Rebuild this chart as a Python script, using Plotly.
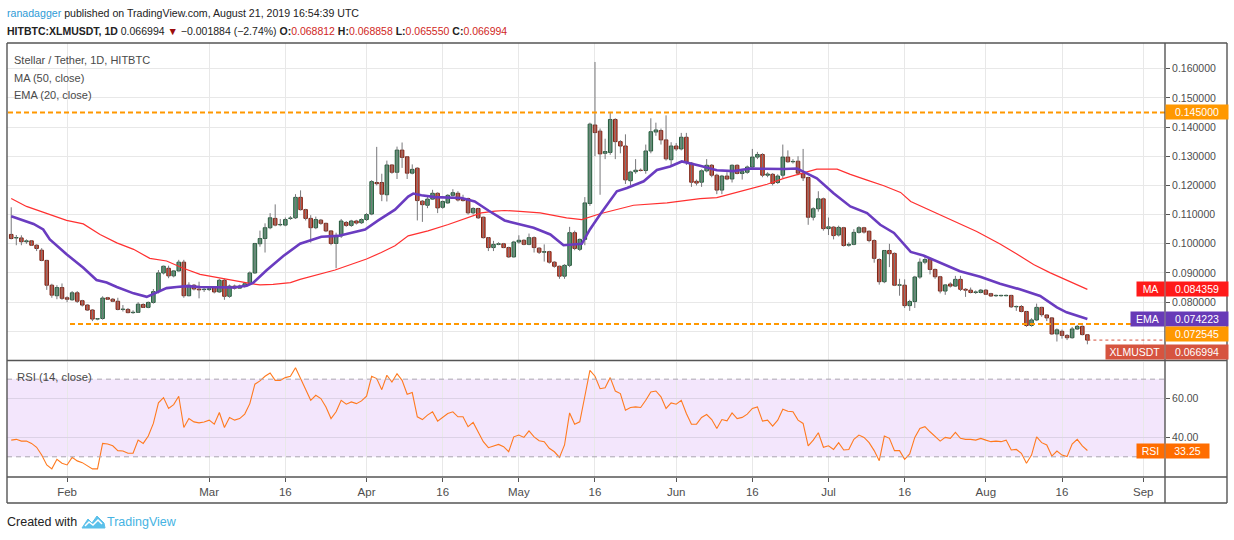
# %%
import pandas as pd
import plotly.graph_objects as go


# %% DATA (XLM/USDT daily, HitBTC)
start_date = '2019-01-21'

opens = [
    .1032, .1020, .1020, .1007, .1010, .0995, .0978, .0943, .0858, .0822,
    .0850, .0815, .0808, .0832, .0805, .0790, .0773, .0742, .0744, .0815,
    .0810, .0803, .0775, .0775, .0764, .0765, .0792, .0782, .0799, .0836,
    .0900, .0916, .0890, .0907, .0937, .0822, .0858, .0845, .0843, .0843,
    .0850, .0835, .0875, .0820, .0855, .0848, .0855, .0863, .0900, .1000,
    .1018, .1055, .1087, .1065, .1064, .1087, .1089, .1159, .1117, .1087,
    .1055, .1081, .1070, .1044, .1001, .1027, .1073, .1063, .1078, .1072,
    .1083, .1102, .1210, .1210, .1168, .1270, .1245, .1321, .1298, .1242,
    .1259, .1146, .1132, .1153, .1173, .1125, .1140, .1166, .1173, .1153,
    .1155, .1106, .1121, .1091, .1021, .0987, .0998, .1000, .0987, .0955,
    .1006, .1012, .0998, .1021, .0985, .0971, .0973, .0937, .0923, .0889,
    .0926, .1038, .0981, .1015, .1138, .1407, .1386, .1310, .1313, .1426,
    .1350, .1335, .1216, .1247, .1252, .1251, .1318, .1383, .1388, .1356,
    .1288, .1335, .1325, .1365, .1276, .1214, .1211, .1250, .1269, .1235,
    .1184, .1232, .1222, .1269, .1241, .1245, .1263, .1297, .1306, .1235,
    .1238, .1210, .1235, .1297, .1281, .1283, .1240, .1227, .1091, .1120,
    .1154, .1052, .1057, .1030, .1055, .0995, .0998, .1039, .1055, .1043,
    .1011, .0946, .0870, .0977, .0967, .0858, .0858, .0788, .0802, .0886,
    .0937, .0946, .0912, .0887, .0838, .0862, .0855, .0878, .0844, .0841,
    .0833, .0833, .0841, .0829, .0822, .0822, .0822, .0823, .0784, .0785,
    .0768, .0720, .0739, .0782, .0756, .0746, .0691, .0700, .0686, .0678,
    .0708, .0717, .068812,
]
highs = [
    .1125, .1030, .1029, .1015, .1012, .0998, .0985, .0945, .0863, .0858,
    .0864, .0820, .0838, .0838, .0808, .0793, .0776, .0745, .0820, .0818,
    .0814, .0815, .0790, .0780, .0772, .0800, .0796, .0802, .0845, .0910,
    .0925, .0925, .0910, .0945, .0945, .0868, .0862, .0870, .0850, .0852,
    .0855, .0880, .0880, .0860, .0860, .0860, .0868, .0905, .1003, .1045,
    .1070, .1105, .1135, .1085, .1090, .1095, .1170, .1183, .1120, .1098,
    .1093, .1085, .1072, .1046, .1038, .1085, .1078, .1082, .1082, .1087,
    .1105, .1218, .1332, .1240, .1285, .1272, .1333, .1347, .1300, .1272,
    .1262, .1150, .1160, .1185, .1176, .1148, .1170, .1187, .1180, .1168,
    .1158, .1125, .1123, .1093, .1023, .1010, .1005, .1003, .0990, .1010,
    .1029, .1015, .1035, .1025, .0988, .0998, .0976, .0940, .0925, .0930,
    .1058, .1045, .1018, .1160, .1415, .1623, .1395, .1360, .1450, .1430,
    .1355, .1375, .1250, .1290, .1258, .1340, .1430, .1415, .1395, .1440,
    .1348, .1345, .1380, .1380, .1280, .1220, .1255, .1290, .1273, .1240,
    .1236, .1245, .1272, .1272, .1252, .1268, .1325, .1315, .1310, .1245,
    .1242, .1238, .1340, .1320, .1290, .1300, .1325, .1230, .1125, .1180,
    .1158, .1090, .1060, .1062, .1058, .1005, .1050, .1060, .1058, .1045,
    .1015, .0950, .0978, .1000, .0970, .0880, .0878, .0808, .0890, .0950,
    .0960, .0950, .0915, .0890, .0862, .0868, .0890, .0890, .0848, .0850,
    .0840, .0845, .0845, .0832, .0826, .0825, .0826, .0825, .0788, .0790,
    .0770, .0745, .0795, .0784, .0758, .0748, .0710, .0706, .0690, .0715,
    .0722, .0720, .068858,
]
lows = [
    .1015, .0995, .0995, .1000, .0993, .0975, .0940, .0842, .0815, .0810,
    .0808, .0800, .0805, .0797, .0785, .0770, .0735, .0738, .0740, .0808,
    .0800, .0772, .0768, .0762, .0760, .0763, .0780, .0779, .0795, .0830,
    .0895, .0882, .0885, .0905, .0815, .0820, .0840, .0813, .0835, .0838,
    .0830, .0832, .0808, .0815, .0843, .0845, .0850, .0860, .0897, .0990,
    .0970, .1050, .1060, .1060, .1060, .1082, .1085, .1114, .1080, .1004,
    .1050, .1065, .1040, .0995, .0916, .1020, .1058, .1058, .1066, .1068,
    .1078, .1098, .1200, .1146, .1145, .1240, .1222, .1260, .1222, .1238,
    .1080, .1075, .1122, .1150, .1105, .1120, .1137, .1162, .1145, .1145,
    .1100, .1100, .1085, .1018, .0975, .0975, .0995, .0985, .0952, .0953,
    .1000, .0995, .0995, .0970, .0965, .0939, .0932, .0918, .0880, .0880,
    .0920, .0978, .0975, .0995, .1130, .1300, .1168, .1290, .1305, .1290,
    .1310, .1205, .1200, .1240, .1248, .1240, .1310, .1370, .1340, .1285,
    .1270, .1318, .1320, .1270, .1195, .1200, .1195, .1245, .1228, .1170,
    .1170, .1218, .1210, .1238, .1220, .1240, .1255, .1290, .1228, .1228,
    .1200, .1205, .1225, .1278, .1275, .1235, .1215, .1065, .1080, .1110,
    .1045, .1030, .1015, .1025, .0990, .0990, .0995, .1035, .1035, .1005,
    .0935, .0860, .0865, .0920, .0855, .0822, .0780, .0770, .0780, .0880,
    .0930, .0895, .0880, .0830, .0825, .0850, .0852, .0838, .0818, .0830,
    .0828, .0830, .0825, .0818, .0818, .0819, .0820, .0780, .0770, .0765,
    .0715, .0716, .0735, .0750, .0735, .0688, .0665, .0675, .0670, .0675,
    .0705, .0686, .065550,
]
closes = [
    .1018, .1021, .1007, .1010, .0995, .0984, .0943, .0858, .0824, .0850,
    .0813, .0810, .0832, .0803, .0790, .0773, .0742, .0743, .0814, .0810,
    .0803, .0775, .0776, .0764, .0765, .0793, .0782, .0799, .0836, .0900,
    .0923, .0890, .0907, .0937, .0822, .0858, .0845, .0842, .0843, .0846,
    .0835, .0875, .0820, .0855, .0848, .0855, .0863, .0900, .1001, .1018,
    .1055, .1089, .1064, .1066, .1083, .1087, .1159, .1117, .1087, .1055,
    .1083, .1070, .1044, .1001, .1027, .1078, .1063, .1078, .1071, .1083,
    .1100, .1213, .1206, .1170, .1270, .1245, .1321, .1296, .1242, .1255,
    .1148, .1134, .1153, .1173, .1123, .1145, .1166, .1175, .1150, .1148,
    .1106, .1121, .1089, .1021, .0987, .0998, .1000, .0987, .0955, .1006,
    .1012, .0998, .1021, .0987, .0971, .0973, .0937, .0923, .0889, .0926,
    .1038, .0984, .1015, .1140, .1410, .1381, .1308, .1316, .1426, .1350,
    .1335, .1219, .1246, .1252, .1251, .1318, .1384, .1390, .1356, .1291,
    .1335, .1325, .1365, .1280, .1211, .1208, .1250, .1269, .1235, .1184,
    .1232, .1222, .1269, .1241, .1247, .1263, .1297, .1306, .1235, .1239,
    .1207, .1232, .1297, .1281, .1281, .1242, .1226, .1091, .1120, .1154,
    .1052, .1058, .1028, .1056, .0994, .0998, .1039, .1055, .1040, .1011,
    .0950, .0870, .0977, .0966, .0858, .0858, .0788, .0802, .0886, .0937,
    .0946, .0912, .0887, .0838, .0859, .0855, .0878, .0844, .0841, .0833,
    .0835, .0841, .0827, .0821, .0822, .0822, .0823, .0784, .0785, .0768,
    .0720, .0739, .0782, .0757, .0746, .0691, .0705, .0686, .0678, .0708,
    .0717, .068878, .066994,
]

# RSI (14, close), one value per candle
rsi = [
    38.6, 39.0, 38.1, 38.1, 36.9, 34.9, 30.9, 25.8, 23.8, 28.7,
    26.7, 25.8, 29.7, 27.9, 27.0, 25.3, 23.8, 23.8, 36.9, 36.6,
    35.7, 33.2, 33.0, 31.8, 31.8, 38.6, 36.9, 40.7, 47.2, 57.8,
    60.5, 54.9, 56.9, 61.2, 45.1, 49.7, 48.0, 47.5, 47.9, 48.9,
    46.8, 52.8, 45.1, 50.3, 48.9, 49.7, 52.0, 57.4, 67.4, 69.1,
    71.5, 73.2, 69.4, 69.4, 70.8, 71.5, 75.9, 70.3, 64.3, 59.1,
    61.7, 60.0, 55.7, 49.7, 53.2, 59.1, 57.1, 58.3, 57.4, 58.8,
    61.2, 71.5, 70.3, 64.6, 72.0, 68.5, 72.8, 69.4, 62.2, 63.1,
    50.6, 49.2, 51.5, 53.2, 48.4, 50.6, 52.3, 53.2, 50.6, 50.6,
    45.5, 47.7, 42.9, 37.8, 34.7, 35.7, 36.4, 35.2, 32.6, 40.3,
    41.2, 40.0, 43.4, 40.3, 38.3, 37.8, 34.4, 32.6, 29.7, 36.1,
    52.6, 46.8, 48.0, 61.2, 74.5, 71.5, 65.1, 65.6, 70.8, 63.9,
    62.6, 54.0, 55.4, 55.7, 55.4, 59.1, 63.4, 63.9, 60.9, 54.9,
    57.8, 57.1, 59.1, 52.3, 46.8, 46.8, 50.3, 51.8, 49.2, 44.6,
    49.2, 48.5, 52.6, 49.7, 50.3, 52.0, 54.9, 55.7, 48.4, 48.9,
    45.8, 48.9, 54.5, 53.5, 53.2, 48.9, 47.2, 35.6, 38.6, 42.4,
    34.9, 35.7, 33.8, 37.3, 33.5, 33.8, 39.0, 41.2, 40.0, 37.3,
    33.2, 28.0, 40.7, 39.5, 33.2, 33.2, 28.7, 31.5, 40.0, 44.6,
    45.5, 42.9, 40.7, 38.1, 40.0, 39.5, 42.6, 39.5, 39.0, 39.0,
    38.6, 39.5, 38.6, 37.8, 38.1, 37.8, 38.6, 33.5, 33.8, 31.8,
    26.7, 30.9, 40.3, 37.3, 36.1, 30.4, 33.0, 30.9, 30.1, 36.6,
    39.0, 35.6, 33.25,
]

# MA (50) and EMA (20) (day offset from start, value)
ma_day = [0, 3.0, 10.9, 14.2, 17.5, 20.8, 24.1, 27.3, 30.6, 33.9,
          37.2, 40.5, 43.8, 47.0, 49.0, 51.6, 55.0, 56.9, 63.8, 70.0,
          72.9, 75.6, 78.2, 82.1, 86.1, 88.7, 92.6, 95.3, 97.2, 100.2,
          104.2, 109.4, 112.4, 116.0, 122.6, 129.2, 135.7, 139.0, 142.3, 145.6,
          148.9, 152.2, 155.4, 158.7, 162.7, 165.3, 168.6, 171.9, 175.2, 177.2,
          190.2, 194.8, 198.1, 201.4, 204.6, 207.9, 212]
ma_val = [.1155, .1128, .1080, .1068, .1032, .1003, .0981, .0950, .0941, .0916,
          .0895, .0884, .0873, .0864, .0859, .0861, .0867, .0878, .0910, .0948,
          .0970, .0993, .1027, .1044, .1066, .1083, .1106, .1112, .1114, .1111,
          .1106, .1089, .1083, .1103, .1132, .1140, .1155, .1158, .1173, .1188,
          .1204, .1224, .1241, .1256, .1256, .1238, .1218, .1199, .1176, .1145,
          .1042, .0999, .0965, .0929, .0901, .0875, .084359]

ema_day = [0, 1.7, 4.4, 6.3, 7.6, 10.9, 14.2, 16.8, 18.8, 20.8,
           24.1, 26.7, 28.7, 30.6, 32.6, 34.6, 37.2, 40.5, 43.8, 46.4,
           47.7, 50.3, 53.6, 56.9, 61.1, 64.4, 69.7, 72.3, 75.6, 78.2,
           79.2, 80.8, 83.5, 88.7, 91.3, 94.0, 97.2, 98.3, 102.9, 106.2,
           108.8, 112.4, 114.0, 116.0, 119.3, 121.3, 124.6, 127.2, 129.8, 132.1,
           133.8, 135.7, 139.0, 142.3, 145.6, 148.9, 152.2, 154.8, 156.8, 158.7,
           162.0, 165.3, 168.6, 171.2, 173.9, 177.2, 179.7, 183.0, 186.9, 190.9,
           194.8, 198.7, 202.7, 206.0, 207.9, 212]
ema_val = [.1094, .1083, .1068, .1049, .1015, .0964, .0918, .0876, .0867, .0852,
           .0830, .0818, .0833, .0848, .0852, .0855, .0852, .0852, .0850, .0856,
           .0867, .0909, .0958, .1000, .1024, .1027, .1049, .1080, .1117, .1162,
           .1172, .1166, .1160, .1157, .1145, .1114, .1080, .1075, .1055, .1032,
           .0995, .1000, .1049, .1100, .1180, .1191, .1214, .1253, .1265, .1282,
           .1276, .1267, .1252, .1249, .1258, .1256, .1256, .1258, .1241, .1224,
           .1173, .1128, .1105, .1065, .1037, .0972, .0960, .0934, .0906, .0887,
           .0863, .0844, .0821, .0782, .0765, .074223]

support_level = 0.0725
resistance_level = 0.145

tick_dates = ['2019-02-01', '2019-03-01', '2019-03-16', '2019-04-01', '2019-04-16',
              '2019-05-01', '2019-05-16', '2019-06-01', '2019-06-16', '2019-07-01',
              '2019-07-16', '2019-08-01', '2019-08-16', '2019-09-01']
tick_text = ['Feb', 'Mar', '16', 'Apr', '16', 'May', '16', 'Jun', '16', 'Jul',
             '16', 'Aug', '16', 'Sep']
price_ticks = [0.07, 0.08, 0.09, 0.10, 0.11, 0.12, 0.13, 0.14, 0.15, 0.16]
price_tick_text = ['', '0.080000', '0.090000', '0.100000', '0.110000', '0.120000',
                   '0.130000', '0.140000', '0.150000', '0.160000']  # 0.07 sits under the tags


# %% HELPERS
start = pd.Timestamp(start_date)
dates = pd.date_range(start, periods=len(closes), freq='D')
ma_x = [start + pd.Timedelta(days=d) for d in ma_day]
ema_x = [start + pd.Timedelta(days=d) for d in ema_day]

FONT = 'Liberation Sans, Arial, sans-serif'
W, H = 1234, 540
PL, PR, PT, PB = 7, 1165, 43, 477     # plot area in pixels


def fx(px):
    return (px - PL) / (PR - PL)


def fy(py):
    return (PB - py) / (PB - PT)


up = [c >= o for o, c in zip(opens, closes)]
body_fill = ['#5a9e78' if u else '#d5503c' for u in up]
body_line = ['#24573a' if u else '#7a2417' for u in up]

wick_x, wick_y = [], []
for d, lo, hi in zip(dates, lows, highs):
    wick_x += [d, d, None]
    wick_y += [lo, hi, None]


# %% FIGURE
fig = go.Figure()

fig.add_trace(go.Scatter(
    x=wick_x, y=wick_y, mode='lines',
    line=dict(color='#77777a', width=1), hoverinfo='skip',
))
fig.add_trace(go.Bar(
    x=dates,
    y=[max(abs(c - o), 0.00012) for o, c in zip(opens, closes)],
    base=[min(o, c) for o, c in zip(opens, closes)],
    width=0.7 * 86400000,
    marker=dict(color=body_fill, line=dict(color=body_line, width=1)),
))
fig.add_trace(go.Scatter(
    x=ma_x, y=ma_val, mode='lines',
    line=dict(color='#ff3030', width=1.2),
))
fig.add_trace(go.Scatter(
    x=ema_x, y=ema_val, mode='lines',
    line=dict(color='#6a3cc0', width=2.6),
))
fig.add_trace(go.Scatter(
    x=dates, y=rsi, mode='lines', xaxis='x2', yaxis='y2',
    line=dict(color='#ff7a1f', width=1.1),
))

x_range = [start - pd.Timedelta(hours=20), start + pd.Timedelta(days=227, hours=7)]
axis_common = dict(
    type='date', range=x_range, tickmode='array', tickvals=tick_dates,
    showgrid=True, gridcolor='#e8e8e8', gridwidth=1, zeroline=False,
    showline=False, fixedrange=True,
)

fig.update_layout(
    width=W, height=H,
    margin=dict(l=PL, r=W - PR, t=PT, b=H - PB, pad=0),
    plot_bgcolor='white', paper_bgcolor='white',
    showlegend=False, barmode='overlay',
    font=dict(family=FONT, size=11, color='#4d4d4d'),
    xaxis=dict(**axis_common, anchor='y', showticklabels=False, ticks=''),
    xaxis2=dict(**axis_common, anchor='y2', matches='x', ticktext=tick_text,
                ticks='outside', ticklen=4, tickcolor='#555555',
                tickfont=dict(size=11.5, color='#4d4d4d')),
    yaxis=dict(
        domain=[fy(360.5), 1], range=[0.0600, 0.1688], side='right',
        tickmode='array', tickvals=price_ticks, ticktext=price_tick_text,
        ticks='outside', ticklen=4, tickcolor='#555555',
        showgrid=True, gridcolor='#e8e8e8', zeroline=False, fixedrange=True,
        tickfont=dict(size=10.5, color='#4d4d4d'),
    ),
    yaxis2=dict(
        domain=[0, fy(361.5)], range=[19.6, 79.1], side='right',
        tickmode='array', tickvals=[40, 60], ticktext=['40.00', '60.00'],
        ticks='outside', ticklen=4, tickcolor='#555555',
        showgrid=True, gridcolor='#dcd2e6', zeroline=False, fixedrange=True,
        tickfont=dict(size=10.5, color='#4d4d4d'),
    ),
)

# RSI band and 30/70 levels
fig.add_shape(type='rect', xref='paper', yref='y2', x0=0, x1=1, y0=30, y1=70,
              fillcolor='#f3e6fc', line_width=0, layer='below')
for lvl in [30, 70]:
    fig.add_shape(type='line', xref='paper', yref='y2', x0=0, x1=1, y0=lvl, y1=lvl,
                  line=dict(color='#aaa5b0', width=1, dash='5px,4px'))

# orange horizontal levels
fig.add_shape(type='line', xref='paper', yref='y', x0=fx(8), x1=1,
              y0=resistance_level, y1=resistance_level,
              line=dict(color='#ff9800', width=2, dash='5px,3px'))
fig.add_shape(type='line', xref='paper', yref='y', x0=fx(70), x1=1,
              y0=support_level, y1=support_level,
              line=dict(color='#ff9800', width=2, dash='5px,3px'))

# last price dotted line
fig.add_shape(type='line', xref='x', yref='y', x0=dates[-1], x1=x_range[1],
              y0=closes[-1], y1=closes[-1],
              line=dict(color='#d5503c', width=1, dash='dot'))

# frame
frame = [
    (7, 43, 1227, 43), (7, 503, 1227, 503), (7, 43, 7, 503), (1227, 43, 1227, 503),
    (1165, 43, 1165, 503), (7, 360.5, 1227, 360.5), (7, 477, 1227, 477),
]
for x0, y0, x1, y1 in frame:
    fig.add_shape(type='line', xref='paper', yref='paper',
                  x0=fx(x0), y0=fy(y0), x1=fx(x1), y1=fy(y1),
                  line=dict(color='#555555', width=1.4))


# %% PRICE TAGS
def tag(text, color, x0, x1, y, yref='paper', size=10.5):
    fig.add_annotation(
        text=text, xref='paper', yref=yref,
        x=fx((x0 + x1) / 2), y=y, xanchor='center', yanchor='middle',
        width=x1 - x0, height=14, bgcolor=color, borderpad=0,
        showarrow=False, font=dict(family=FONT, size=size, color='white'),
    )


tag('0.145000', '#ff9800', 1166, 1228, resistance_level, 'y')
tag('MA', '#ff1a1a', 1137, 1164, ma_val[-1], 'y')
tag('%.6f' % ma_val[-1], '#ff1a1a', 1166, 1228, ma_val[-1], 'y')
tag('EMA', '#673ab7', 1131, 1164, ema_val[-1], 'y')
tag('%.6f' % ema_val[-1], '#673ab7', 1166, 1228, ema_val[-1], 'y')
tag('0.072545', '#ff9800', 1166, 1228, fy(333.5))
tag('XLMUSDT', '#d6543f', 1106, 1164, fy(352))
tag('%.6f' % closes[-1], '#d6543f', 1166, 1228, fy(352))
tag('RSI', '#ff6d00', 1137, 1164, rsi[-1], 'y2')
tag('%.2f' % rsi[-1], '#ff6d00', 1166, 1209, rsi[-1], 'y2')


# %% TEXT
def text(s, x, y, size=11, color='#333333'):
    fig.add_annotation(
        text=s, xref='paper', yref='paper', x=fx(x), y=fy(y),
        xanchor='left', yanchor='middle', showarrow=False,
        font=dict(family=FONT, size=size, color=color),
    )


text("<span style='color:#2e9bd6'>ranadagger</span> published on TradingView.com, "
     "August 21, 2019 16:54:39 UTC", 5, 13, size=10.6, color='#222222')
red = "<span style='color:#d0271d'>%s</span>"
text("<b>HITBTC:XLMUSDT, 1D</b> 0.066994 <span style='color:#9b0d0d'>▼</span> "
     "−0.001884 (−2.74%) "
     "<b>O:</b>" + red % '0.068812' + " <b>H:</b>" + red % '0.068858' +
     " <b>L:</b>" + red % '0.065550' + " <b>C:</b>" + red % '0.066994',
     5, 31, size=10.5, color='#222222')

text('Stellar / Tether, 1D, HITBTC', 12, 60, color='#4a4a4a')
text('MA (50, close)', 12, 78, color='#4a4a4a')
text('EMA (20, close)', 12, 95, color='#4a4a4a')
text('RSI (14, close)', 15, 377, size=11.3, color='#4a4a4a')

text('Created with', 5, 522, size=12.5, color='#222222')
text('TradingView', 105, 522, size=12.5, color='#45b3e3')

logo = [(82, 528), (88, 519), (92, 523), (97, 516), (104, 523), (105, 528)]
path = 'M ' + ' L '.join('%f,%f' % (fx(a), fy(b)) for a, b in logo) + ' Z'
fig.add_shape(type='path', xref='paper', yref='paper', path=path,
              fillcolor='#5bc0ea', line=dict(color='#5bc0ea', width=1))
zig = [(85, 526), (89, 522), (93, 525), (98, 520), (102, 524)]
path2 = 'M ' + ' L '.join('%f,%f' % (fx(a), fy(b)) for a, b in zig)
fig.add_shape(type='path', xref='paper', yref='paper', path=path2,
              line=dict(color='white', width=1.5))

# page body has an 8px default margin; drop it so the figure sits at 0,0
fig.write_html('out.html', config={'displayModeBar': False},
               post_script="document.body.style.margin='0px';")
